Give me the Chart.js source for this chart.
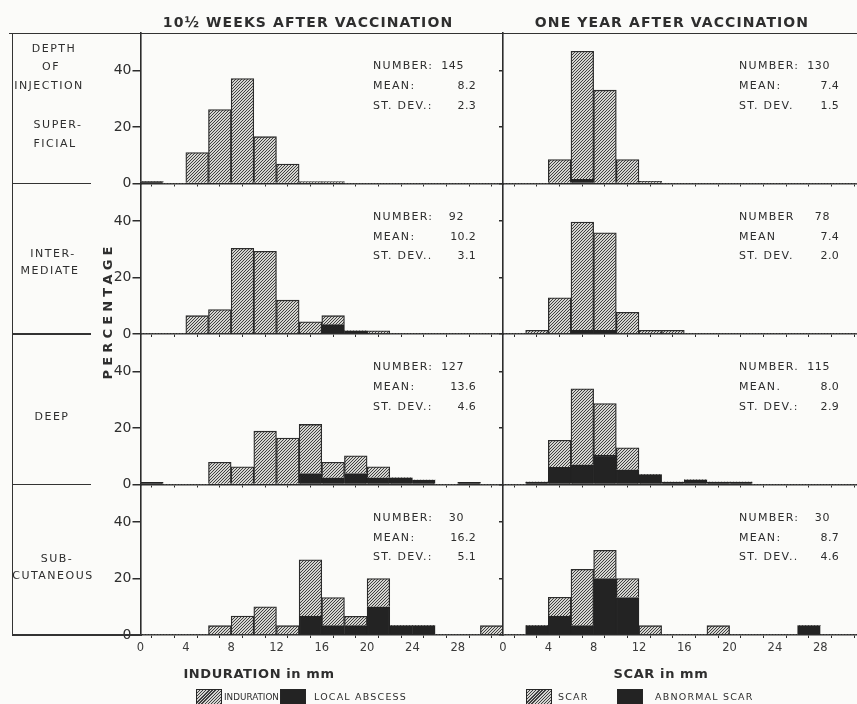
<!DOCTYPE html>
<html><head><meta charset="utf-8">
<script src="https://cdn.jsdelivr.net/npm/chart.js@4"></script>
<style>
html,body{margin:0;padding:0;background:#fbfbf9;}
body{width:857px;height:704px;overflow:hidden;position:relative;font-family:"DejaVu Sans",sans-serif;color:#2e2e2e;}
canvas.panel{position:absolute;left:0;top:0;}
.t{position:absolute;white-space:nowrap;line-height:1;}
.ln{position:absolute;background:#333;}
.box{position:absolute;}
</style></head><body>
<script>
// ---------------- data ----------------
const binStartsMm = [0,2,4,6,8,10,12,14,16,18,20,22,24,26,28,30];
const xTickLabels = [0,4,8,12,16,20,24,28];
const yTickLabels = [0,20,40];
const columnTitles = ['10\u00BD WEEKS AFTER VACCINATION','ONE YEAR AFTER VACCINATION'];
const xAxisTitles = ['INDURATION in mm','SCAR in mm'];
const depthHeader = ['DEPTH','OF','INJECTION'];
const depthLabels = [['SUPER-','FICIAL'],['INTER-','MEDIATE'],['DEEP'],['SUB-','CUTANEOUS']];
const legendLabels = ['INDURATION','LOCAL ABSCESS','SCAR','ABNORMAL SCAR'];

// 10 1/2 weeks: induration (hatched part) and local abscess (solid part), % of cases per 2-mm class
const superficialWeeksInduration  = [0,0,11.0,26.2,37.2,16.6,6.9,0.7,0.7,0,0,0,0,0,0,0];
const superficialWeeksAbscess     = [0.7,0,0,0,0,0,0,0,0,0,0,0,0,0,0,0];
const intermediateWeeksInduration = [0,0,6.5,8.7,30.4,29.3,12.0,4.3,3.2,0,1.1,0,0,0,0,0];
const intermediateWeeksAbscess    = [0,0,0,0,0,0,0,0,3.3,1.1,0,0,0,0,0,0];
const deepWeeksInduration         = [0,0,0,7.9,6.3,18.9,16.5,17.4,5.5,6.3,3.9,0,0,0,0,0];
const deepWeeksAbscess            = [0.8,0,0,0,0,0,0,3.9,2.4,3.9,2.4,2.4,1.6,0,0.8,0];
const subcutWeeksInduration       = [0,0,0,3.3,6.7,10.0,3.3,20.0,10.0,3.3,10.0,0,0,0,0,3.3];
const subcutWeeksAbscess          = [0,0,0,0,0,0,0,6.7,3.3,3.3,10.0,3.3,3.3,0,0,0];
// one year: scar (hatched part) and abnormal scar (solid part)
const superficialYearScar         = [0,0,8.5,45.4,33.1,8.5,0.8,0,0,0,0,0,0,0,0,0];
const superficialYearAbnormal     = [0,0,0,1.5,0,0,0,0,0,0,0,0,0,0,0,0];
const intermediateYearScar        = [0,1.3,12.8,38.4,34.6,7.7,1.3,1.3,0,0,0,0,0,0,0,0];
const intermediateYearAbnormal    = [0,0,0,1.3,1.3,0,0,0,0,0,0,0,0,0,0,0];
const deepYearScar                = [0,0,9.6,26.9,18.3,7.8,0,0,0,0,0,0,0,0,0,0];
const deepYearAbnormal            = [0,0.9,6.1,7.0,10.4,5.2,3.5,0.9,1.7,0.9,0.9,0,0,0,0,0];
const subcutYearScar              = [0,0,6.7,20.0,10.0,6.7,3.3,0,0,3.3,0,0,0,0,0,0];
const subcutYearAbnormal          = [0,3.3,6.7,3.3,20.0,13.3,0,0,0,0,0,0,0,3.3,0,0];

// summary statistics printed in each panel
const numberWeeks = ['145','92','127','30'];
const meanWeeks   = ['8.2','10.2','13.6','16.2'];
const sdWeeks     = ['2.3','3.1','4.6','5.1'];
const numberYear  = ['130','78','115','30'];
const meanYear    = ['7.4','7.4','8.0','8.7'];
const sdYear      = ['1.5','2.0','2.9','4.6'];
const numLabelWeeks  = ['NUMBER:','NUMBER:','NUMBER:','NUMBER:'];
const meanLabelWeeks = ['MEAN:','MEAN:','MEAN:','MEAN:'];
const sdLabelWeeks   = ['ST. DEV.:','ST. DEV..','ST. DEV.:','ST. DEV.:'];
const numLabelYear   = ['NUMBER:','NUMBER','NUMBER.','NUMBER:'];
const meanLabelYear  = ['MEAN:','MEAN','MEAN.','MEAN:'];
const sdLabelYear    = ['ST. DEV.','ST. DEV.','ST. DEV.:','ST. DEV..'];

// ---------------- layout ----------------
const ROW_BASE = [183.5, 334, 484.5, 635];
const ROW_H = 150.5;
const PX_PER_PCT = 2.82;
const COL_X0 = [140.5, 503];
const MM_PX = 11.33;
const X_MAX = 32;
const CW = 880, CH = 704;
const INK = '#2c2c2c';
const SOLID = '#232323';

function makeHatch(ctx){
  const c = document.createElement('canvas'); c.width = 3; c.height = 3;
  const g = c.getContext('2d');
  g.fillStyle = '#d4d4d0'; g.fillRect(0,0,3,3);
  g.strokeStyle = '#404040'; g.lineWidth = 1;
  g.beginPath();
  g.moveTo(0,3); g.lineTo(3,0);
  g.moveTo(-1,1); g.lineTo(1,-1);
  g.moveTo(2,4); g.lineTo(4,2);
  g.stroke();
  return ctx.createPattern(c,'repeat');
}

function addText(str, x, y, o){
  o = o || {};
  const d = document.createElement('div');
  d.className = 't'; d.textContent = str;
  d.style.left = x + 'px'; d.style.top = y + 'px';
  d.style.fontSize = (o.size || 11) + 'px';
  if (o.bold) d.style.fontWeight = 'bold';
  if (o.ls) d.style.letterSpacing = o.ls + 'px';
  const ax = o.align === 'center' ? '-50%' : (o.align === 'right' ? '-100%' : '0');
  d.style.transform = 'translate(' + ax + ',-50%)' + (o.rot ? ' rotate(' + o.rot + 'deg)' : '');
  document.body.appendChild(d);
}
function addLine(x, y, w, h){
  const d = document.createElement('div'); d.className = 'ln';
  d.style.left = x + 'px'; d.style.top = y + 'px'; d.style.width = w + 'px'; d.style.height = h + 'px';
  document.body.appendChild(d);
}

const panels = [
  {r:0, c:0, hatched:superficialWeeksInduration,  solid:superficialWeeksAbscess},
  {r:1, c:0, hatched:intermediateWeeksInduration, solid:intermediateWeeksAbscess},
  {r:2, c:0, hatched:deepWeeksInduration,         solid:deepWeeksAbscess},
  {r:3, c:0, hatched:subcutWeeksInduration,       solid:subcutWeeksAbscess},
  {r:0, c:1, hatched:superficialYearScar,         solid:superficialYearAbnormal},
  {r:1, c:1, hatched:intermediateYearScar,        solid:intermediateYearAbnormal},
  {r:2, c:1, hatched:deepYearScar,                solid:deepYearAbnormal},
  {r:3, c:1, hatched:subcutYearScar,              solid:subcutYearAbnormal}
];

panels.forEach(p => {
  const cv = document.createElement('canvas');
  cv.width = CW; cv.height = CH; cv.className = 'panel';
  document.body.appendChild(cv);
  const ctx = cv.getContext('2d');
  const pat = makeHatch(ctx);
  const yW = p.c === 0 ? 40 : 4;
  const xH = p.r === 3 ? 22 : 3;
  const base = ROW_BASE[p.r];
  const x0 = COL_X0[p.c];
  const bw = c => (c.raw && c.raw.y > 0) ? 1.3 : 0;
  new Chart(ctx, {
    type: 'bar',
    data: {
      datasets: [
        {label: p.c === 0 ? legendLabels[1] : legendLabels[3],
         data: binStartsMm.map((b,i) => ({x: b + 1, y: p.solid[i]})),
         backgroundColor: SOLID, borderColor: SOLID, borderWidth: bw},
        {label: p.c === 0 ? legendLabels[0] : legendLabels[2],
         data: binStartsMm.map((b,i) => ({x: b + 1, y: p.hatched[i]})),
         backgroundColor: pat, borderColor: INK, borderWidth: bw}
      ]
    },
    options: {
      responsive: false, animation: false, devicePixelRatio: 1, events: [],
      datasets: {bar: {barPercentage: 1, categoryPercentage: 1}},
      layout: {padding: {
        left: x0 - yW,
        right: CW - (x0 + X_MAX * MM_PX),
        top: base - ROW_H,
        bottom: CH - base - xH
      }},
      plugins: {legend: {display: false}, tooltip: {enabled: false}, title: {display: false}},
      scales: {
        x: {
          type: 'linear', min: 0, max: X_MAX, offset: false, stacked: true,
          afterFit: s => { s.height = xH; },
          border: {display: true, color: INK, width: 1.6},
          grid: {display: true, drawOnChartArea: false, drawTicks: true, tickLength: 3, color: INK, lineWidth: 1},
          ticks: {display: p.r === 3, stepSize: 2, autoSkip: false, maxRotation: 0, includeBounds: false,
                  padding: 3, color: '#3a3a3a', font: {family: 'DejaVu Sans', size: 11.5},
                  callback: v => xTickLabels.includes(v) ? String(v) : ''}
        },
        y: {
          type: 'linear', min: 0, max: ROW_H / PX_PER_PCT, stacked: true,
          afterFit: s => { s.width = yW; },
          border: {display: true, color: INK, width: 1.6},
          grid: {display: true, drawOnChartArea: false, drawTicks: true, tickLength: p.c === 0 ? 8 : 4, color: INK, lineWidth: 1.5},
          ticks: {display: p.c === 0, stepSize: 20, includeBounds: false, padding: 1,
                  color: '#2e2e2e', font: {family: 'DejaVu Sans', size: 14},
                  callback: v => yTickLabels.includes(v) ? String(v) : ''}
        }
      }
    }
  });
});

// ---------------- frame & texts ----------------
addLine(9, 32.5, 848, 1.6);          // top frame
addLine(11.5, 32.5, 1.6, 603);       // left frame
addLine(11.5, 634.2, 130, 1.6);      // bottom of label column
[0,1,2].forEach(r => addLine(11.5, ROW_BASE[r] - 0.8, 79, 1.6));

addText(columnTitles[0], 308, 22, {size: 14, bold: true, ls: 1.1, align: 'center'});
addText(columnTitles[1], 672, 22, {size: 14, bold: true, ls: 1.1, align: 'center'});

addText(depthHeader[0], 54, 48, {size: 11, ls: 1.5, align: 'center'});
addText(depthHeader[1], 51, 66, {size: 11, ls: 1.5, align: 'center'});
addText(depthHeader[2], 49, 85, {size: 11, ls: 1.5, align: 'center'});
const depthY = [[124,143],[253,270],[416],[558,575]];
const depthX = [[58,55],[53,50],[52],[57,53]];
depthLabels.forEach((lines, r) => lines.forEach((s, k) =>
  addText(s, depthX[r][k], depthY[r][k], {size: 11, ls: 1.5, align: 'center'})));

addText('PERCENTAGE', 107, 311, {size: 13, bold: true, ls: 4.2, align: 'center', rot: -90});

[0,1,2,3].forEach(r => {
  const top = ROW_BASE[r] - ROW_H;
  // left column
  addText(numLabelWeeks[r], 373, top + 32, {size: 11, ls: 1.3});
  addText(numberWeeks[r], 464, top + 32, {size: 11, ls: 0.6, align: 'right'});
  addText(meanLabelWeeks[r], 373, top + 52, {size: 11, ls: 1.3});
  addText(meanWeeks[r], 476, top + 52, {size: 11, ls: 0.3, align: 'right'});
  addText(sdLabelWeeks[r], 373, top + 71.5, {size: 11, ls: 1.3});
  addText(sdWeeks[r], 476, top + 71.5, {size: 11, ls: 0.3, align: 'right'});
  // right column
  addText(numLabelYear[r], 739, top + 32, {size: 11, ls: 1.3});
  addText(numberYear[r], 830, top + 32, {size: 11, ls: 0.6, align: 'right'});
  addText(meanLabelYear[r], 739, top + 52, {size: 11, ls: 1.3});
  addText(meanYear[r], 839, top + 52, {size: 11, ls: 0.3, align: 'right'});
  addText(sdLabelYear[r], 739, top + 71.5, {size: 11, ls: 1.3});
  addText(sdYear[r], 839, top + 71.5, {size: 11, ls: 0.3, align: 'right'});
});

addText(xAxisTitles[0], 259, 673, {size: 13, bold: true, ls: 0.6, align: 'center'});
addText(xAxisTitles[1], 661, 673, {size: 13, bold: true, ls: 0.6, align: 'center'});

// legend
function legendBox(x, hatched){
  const d = document.createElement('div'); d.className = 'box';
  d.style.left = x + 'px'; d.style.top = '689px'; d.style.width = '26px'; d.style.height = '16px';
  d.style.border = '1.2px solid #262626'; d.style.boxSizing = 'border-box';
  d.style.background = hatched ? 'repeating-linear-gradient(-45deg,#404040 0 1px,#d4d4d0 1px 2.2px)' : SOLID;
  document.body.appendChild(d);
}
legendBox(196, true);  addText(legendLabels[0], 224, 697, {size: 8.8, ls: 0});
legendBox(280, false); addText(legendLabels[1], 314, 697, {size: 9.5, ls: 1.2});
legendBox(526, true);  addText(legendLabels[2], 558, 697, {size: 9.5, ls: 1.2});
legendBox(617, false); addText(legendLabels[3], 655, 697, {size: 9.5, ls: 1.2});
</script>
</body></html>
